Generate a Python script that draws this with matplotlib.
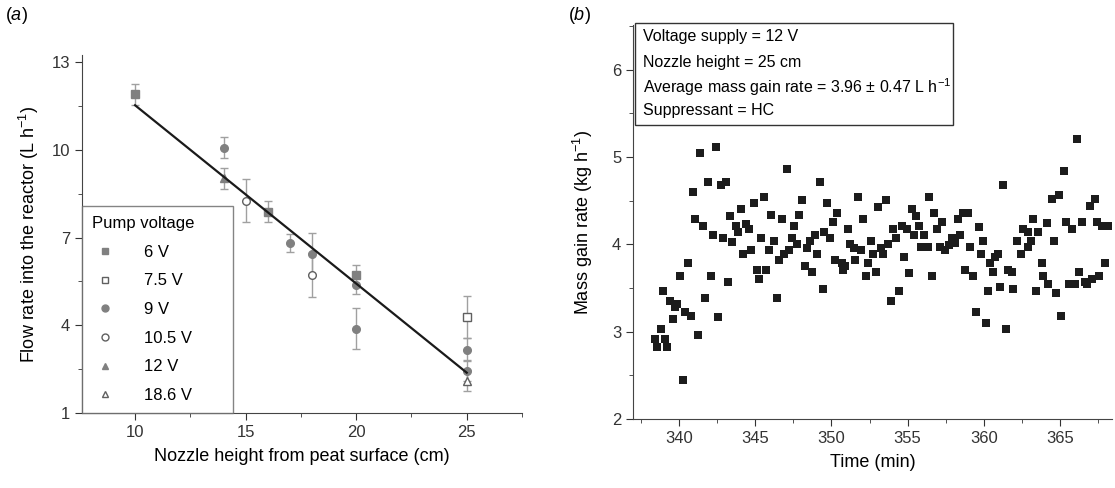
import matplotlib
matplotlib.use("Agg")
import matplotlib.pyplot as plt
from matplotlib.lines import Line2D
from matplotlib.patches import Rectangle
import numpy as np

plt.rcParams['font.family'] = ['Liberation Sans', 'DejaVu Sans']
plt.rcParams['mathtext.fontset'] = 'custom'
plt.rcParams['mathtext.rm'] = 'Liberation Sans'
plt.rcParams['mathtext.it'] = 'Liberation Sans:italic'

# ---------------- Panel (a) data ----------------
v6_x = [10, 16, 20]
v6_y = [11.9, 7.89, 5.73]
v6_e = [0.35, 0.35, 0.34]
v75_x = [25]
v75_y = [4.27]
v75_e = [0.72]
v9_x = [14, 17, 18, 20, 20, 25, 25]
v9_y = [10.07, 6.81, 6.45, 5.37, 3.89, 3.17, 2.45]
v9_e = [0.36, 0.30, 0.70, 0.30, 0.70, 0.40, 0.35]
v105_x = [15, 18]
v105_y = [8.27, 5.73]
v105_e = [0.73, 0.75]
v12_x = [14]
v12_y = [9.03]
v12_e = [0.36]
v186_x = [25]
v186_y = [2.11]
v186_e = [0.37]
fit_slope = -0.61
fit_intercept = 17.63
fit_x = [10, 25]
legend_labels = ['6 V', '7.5 V', '9 V', '10.5 V', '12 V', '18.6 V']

# ---------------- Panel (b) data ----------------
time_min = [
    338.41, 338.58, 338.80, 338.93, 339.08, 339.23, 339.43, 339.59, 339.74, 339.87,
    340.09, 340.24, 340.39, 340.61, 340.77, 340.94, 341.07, 341.27, 341.40, 341.60,
    341.73, 341.92, 342.08, 342.25, 342.43, 342.58, 342.76, 342.89, 343.06, 343.24,
    343.37, 343.46, 343.74, 343.89, 344.07, 344.22, 344.40, 344.57, 344.74, 344.92,
    345.10, 345.27, 345.40, 345.58, 345.71, 345.93, 346.06, 346.26, 346.43, 346.58,
    346.76, 346.91, 347.09, 347.24, 347.41, 347.57, 347.77, 347.90, 348.07, 348.29,
    348.42, 348.60, 348.75, 348.95, 349.08, 349.25, 349.43, 349.54, 349.70, 349.93,
    350.13, 350.24, 350.37, 350.68, 350.79, 350.89, 351.11, 351.22, 351.50, 351.55,
    351.77, 351.92, 352.09, 352.25, 352.42, 352.60, 352.75, 352.93, 353.08, 353.26,
    353.41, 353.58, 353.74, 353.91, 354.06, 354.22, 354.46, 354.61, 354.79, 354.94,
    355.11, 355.27, 355.44, 355.55, 355.75, 355.88, 356.08, 356.36, 356.43, 356.60,
    356.76, 356.91, 357.13, 357.28, 357.46, 357.74, 357.94, 358.11, 358.29, 358.44,
    358.62, 358.77, 358.99, 359.09, 359.27, 359.47, 359.66, 359.80, 359.93, 360.12,
    360.30, 360.41, 360.63, 360.73, 360.95, 361.06, 361.28, 361.43, 361.61, 361.83,
    361.89, 362.20, 362.44, 362.60, 362.88, 362.92, 363.10, 363.25, 363.43, 363.58,
    363.80, 363.90, 364.13, 364.23, 364.46, 364.63, 364.76, 364.96, 365.09, 365.29,
    365.39, 365.61, 365.81, 365.98, 366.12, 366.27, 366.47, 366.65, 366.77, 366.95,
    367.13, 367.30, 367.45, 367.58, 367.78, 367.95, 368.12,
]
mass_rate = [
    2.92, 2.82, 3.03, 3.46, 2.92, 2.82, 3.35, 3.14, 3.28, 3.32,
    3.64, 2.45, 3.22, 3.79, 3.18, 4.60, 4.29, 2.96, 5.04, 4.21,
    3.39, 4.71, 3.64, 4.11, 5.11, 3.17, 4.68, 4.07, 4.71, 3.57,
    4.32, 4.03, 4.21, 4.14, 4.40, 3.89, 4.23, 4.18, 3.93, 4.47,
    3.71, 3.60, 4.07, 4.54, 3.71, 3.93, 4.33, 4.04, 3.39, 3.82,
    4.29, 3.89, 4.86, 3.93, 4.07, 4.21, 4.00, 4.33, 4.51, 3.75,
    3.96, 4.04, 3.68, 4.11, 3.89, 4.71, 3.49, 4.14, 4.47, 4.07,
    4.26, 3.82, 4.36, 3.79, 3.71, 3.75, 4.18, 4.00, 3.96, 3.82,
    4.54, 3.93, 4.29, 3.64, 3.79, 4.04, 3.89, 3.68, 4.43, 3.96,
    3.89, 4.51, 4.00, 3.35, 4.18, 4.07, 3.46, 4.21, 3.86, 4.18,
    3.67, 4.40, 4.11, 4.32, 4.21, 3.97, 4.11, 3.97, 4.54, 3.64,
    4.36, 4.18, 3.97, 4.26, 3.93, 3.99, 4.07, 4.02, 4.29, 4.11,
    4.36, 3.71, 4.36, 3.97, 3.64, 3.22, 4.20, 3.89, 4.04, 3.10,
    3.46, 3.79, 3.68, 3.86, 3.89, 3.51, 4.68, 3.03, 3.71, 3.68,
    3.49, 4.04, 3.89, 4.18, 4.14, 3.97, 4.04, 4.29, 3.46, 4.14,
    3.79, 3.64, 4.24, 3.54, 4.52, 4.04, 3.44, 4.56, 3.18, 4.84,
    4.26, 3.54, 4.17, 3.54, 5.20, 3.68, 4.26, 3.57, 3.54, 4.44,
    3.60, 4.52, 4.26, 3.64, 4.21, 3.79, 4.21,
]

info_lines = [
    "Voltage supply = 12 V",
    "Nozzle height = 25 cm",
    "Average mass gain rate = 3.96 \u00b1 0.47 L h$^{-1}$",
    "Suppressant = HC",
]

W, H = 1115, 488
fig = plt.figure(figsize=(W / 100, H / 100), dpi=100)

gray = '#808080'
ecol = '#a0a0a0'
tfs = 12      # tick / legend font size
lfs = 13      # axis label font size

def style_axes(ax):
    for s in ['top', 'right']:
        ax.spines[s].set_visible(False)
    for s in ['left', 'bottom']:
        ax.spines[s].set_color('#444444')
    ax.tick_params(which='both', direction='out', labelsize=tfs, colors='#333333')
    ax.tick_params(which='major', length=5)
    ax.tick_params(which='minor', length=3)

# ---------------- Panel (a) ----------------
axa = fig.add_axes([82 / W, 1 - 413 / H, 440 / W, 358 / H])
common = dict(ls='none', ecolor=ecol, elinewidth=1.0, capsize=3, capthick=1.0, markersize=5.5)
series = [
    (v6_x, v6_y, v6_e, 's', gray),
    (v75_x, v75_y, v75_e, 's', 'white'),
    (v9_x, v9_y, v9_e, 'o', gray),
    (v105_x, v105_y, v105_e, 'o', 'white'),
    (v12_x, v12_y, v12_e, '^', gray),
    (v186_x, v186_y, v186_e, '^', 'white'),
]
handles = []
for (xs, ys, es, mk, fc), lab in zip(series, legend_labels):
    mec = gray if fc != 'white' else '#606060'
    axa.errorbar(xs, ys, yerr=es, marker=mk, mfc=fc, mec=mec, mew=1.0, **common)
    handles.append(Line2D([], [], ls='none', marker=mk, mfc=fc, mec=mec, mew=1.0,
                          markersize=5, label=lab))
fx = np.array(fit_x, dtype=float)
axa.plot(fx, fit_slope * fx + fit_intercept, color='#1a1a1a', lw=1.6, zorder=5)

axa.set_xlim(7.6, 27.5)
axa.set_ylim(1, 13.25)
axa.set_xticks([10, 15, 20, 25])
axa.set_xticks([12.5, 17.5, 22.5, 27.5], minor=True)
axa.set_yticks([1, 4, 7, 10, 13])
axa.set_yticks([2.5, 5.5, 8.5, 11.5], minor=True)
style_axes(axa)
axa.set_xlabel('Nozzle height from peat surface (cm)', fontsize=lfs, labelpad=6)
axa.set_ylabel('Flow rate into the reactor (L h$^{-1}$)', fontsize=lfs, labelpad=8)

leg = axa.legend(handles=handles, title='Pump voltage', loc='lower left',
                 bbox_to_anchor=(0.0, 0.0, 151 / 440, 0.5), mode='expand',
                 borderaxespad=0.0, fontsize=tfs, title_fontsize=tfs,
                 frameon=True, fancybox=False, borderpad=0.6, labelspacing=0.82,
                 handlelength=1.6, handletextpad=1.5, alignment='left')
leg.get_frame().set_edgecolor('#666666')
leg.get_frame().set_linewidth(1.0)

fig.text(5 / W, 1 - 15 / H, '($\\it{a}$)', fontsize=13, va='center', ha='left')

# ---------------- Panel (b) ----------------
axb = fig.add_axes([633 / W, 1 - 419 / H, 479 / W, 394 / H])
axb.scatter(time_min, mass_rate, marker='s', s=34, color='#1c1c1c', linewidths=0, zorder=3)
axb.set_xlim(336.98, 368.41)
axb.set_ylim(2, 6.51)
axb.set_xticks([340, 345, 350, 355, 360, 365])
axb.set_xticks([337.5, 342.5, 347.5, 352.5, 357.5, 362.5, 367.5], minor=True)
axb.set_yticks([2, 3, 4, 5, 6])
axb.set_yticks([2.5, 3.5, 4.5, 5.5, 6.5], minor=True)
style_axes(axb)
axb.set_xlabel('Time (min)', fontsize=lfs, labelpad=6)
axb.set_ylabel('Mass gain rate (kg h$^{-1}$)', fontsize=lfs, labelpad=12)

# information box (figure pixel coordinates)
box_l, box_t, box_r, box_b = 635, 23, 953, 125
fig.patches.append(Rectangle((box_l / W, 1 - box_b / H), (box_r - box_l) / W,
                             (box_b - box_t) / H, transform=fig.transFigure,
                             fc='white', ec='#333333', lw=1.0, zorder=10))
line_y = [37, 62, 87, 111]
for txt, yy in zip(info_lines, line_y):
    fig.text(643 / W, 1 - yy / H, txt, fontsize=11.5, va='center', ha='left', zorder=11)

fig.text(568 / W, 1 - 15 / H, '($\\it{b}$)', fontsize=13, va='center', ha='left')

fig.savefig('out.png', dpi=100)
